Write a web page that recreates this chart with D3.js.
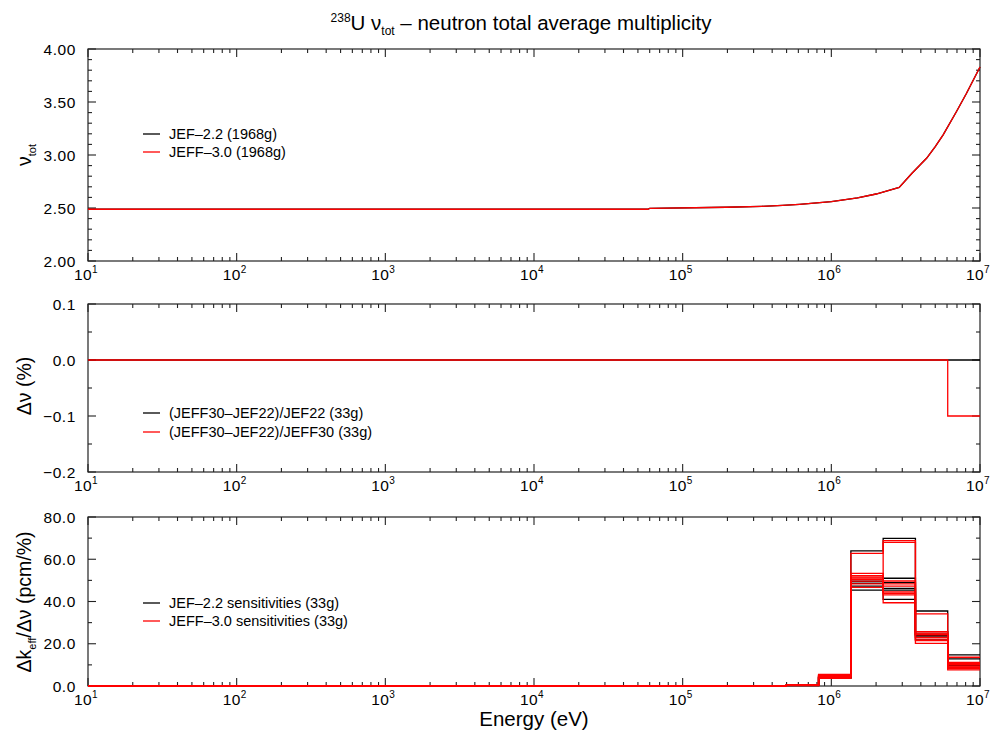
<!DOCTYPE html>
<html>
<head>
<meta charset="utf-8">
<script src="https://cdn.jsdelivr.net/npm/d3@7/dist/d3.min.js"></script>
<style>
  html, body { margin: 0; padding: 0; background: #fff; }
  svg { display: block; font-family: "Liberation Sans", Arial, Helvetica, sans-serif; }
</style>
</head>
<body>
<svg id="chart" width="995" height="740"></svg>
<script>
// ---- data ----
// 238U nu-total, fine group (1968g) curves
const nuEnergy = [10, 5.8e4, 6.0e4, 1.97e5, 3.4e5, 4.7e5, 6.1e5, 1.0e6, 1.5e6, 2.0e6, 2.86e6, 3.5e6, 4.37e6, 5.0e6, 5.65e6, 6.95e6, 8.1e6, 1.0e7];
const nuJEF22  = [2.488, 2.488, 2.497, 2.507, 2.516, 2.525, 2.535, 2.56, 2.595, 2.632, 2.695, 2.83, 2.969, 3.08, 3.19, 3.41, 3.58, 3.83];
const nuJEFF30 = [2.488, 2.488, 2.497, 2.507, 2.516, 2.525, 2.535, 2.56, 2.595, 2.632, 2.695, 2.83, 2.969, 3.08, 3.19, 3.41, 3.58, 3.83];

// 33-group boundaries (upper part of range shown)
const groupEdges = [10, 4.9787e5, 8.2085e5, 1.3534e6, 2.2313e6, 3.6788e6, 6.0653e6, 1.0e7];

// relative difference (%) per group
const diffRelJEF22  = [0, 0, 0, 0, 0, 0, 0];
const diffRelJEFF30 = [0, 0, 0, 0, 0, 0, -0.1];

// sensitivities (pcm/%) per group, one row per benchmark
const sensJEF22 = [
  [0, 0.4, 4.5, 64.0, 69.9, 35.5, 14.7],
  [0, 0.3, 4.2, 50.2, 51.0, 25.7, 12.8],
  [0, 0.3, 4.0, 49.4, 48.9, 24.6, 10.7],
  [0, 0.3, 3.9, 47.3, 45.4, 23.3, 10.2],
  [0, 0.2, 3.7, 45.4, 41.0, 21.8, 9.6],
  [0, 0.3, 4.1, 48.6, 46.2, 24.0, 10.0]
];
const sensJEFF30 = [
  [0, 0.5, 5.5, 62.8, 68.8, 34.1, 13.6],
  [0, 0.4, 5.2, 52.2, 49.7, 25.7, 11.2],
  [0, 0.4, 4.8, 51.1, 48.3, 25.0, 10.7],
  [0, 0.3, 4.5, 50.5, 47.3, 24.2, 10.2],
  [0, 0.3, 4.2, 49.6, 44.6, 23.0, 9.5],
  [0, 0.3, 3.9, 48.3, 43.9, 22.2, 8.8],
  [0, 0.2, 3.6, 46.7, 39.4, 20.2, 7.6],
  [0, 0.4, 5.0, 53.3, 43.1, 21.5, 8.2],
  [0, 0.4, 4.9, 51.5, 68.0, 24.5, 9.0]
];

const xDecades = [1, 2, 3, 4, 5, 6, 7];
const yTicksTop = [2.0, 2.5, 3.0, 3.5, 4.0];
const yTicksMid = [-0.2, -0.1, 0.0, 0.1];
const yTicksBot = [0, 20, 40, 60, 80];

// ---- layout ----
const svg = d3.select("#chart");
const left = 88, right = 980;
const x = d3.scaleLog().domain([10, 1e7]).range([left, right]);

const panels = [
  { top: 49,  bottom: 261, domain: [2.0, 4.0],  major: yTicksTop, minorStep: 0.1,  fmt: d3.format(".2f") },
  { top: 304, bottom: 472, domain: [-0.2, 0.1], major: yTicksMid, minorStep: 0.05, fmt: d => d3.format(".1f")(d).replace("-", "\u2013") },
  { top: 517, bottom: 686, domain: [0, 80],     major: yTicksBot, minorStep: 10,   fmt: d3.format(".1f") }
];
panels.forEach(p => { p.y = d3.scaleLinear().domain(p.domain).range([p.bottom, p.top]); });

const axisColor = "#222";

function drawFrame(p) {
  const g = svg.append("g");
  g.append("rect")
    .attr("x", left).attr("y", p.top)
    .attr("width", right - left).attr("height", p.bottom - p.top)
    .attr("fill", "none").attr("stroke", axisColor).attr("stroke-width", 1.2);

  // x ticks: major at decades, minor at 2..9
  const xMinor = [];
  for (let d = 1; d < 7; d++) for (let m = 2; m <= 9; m++) xMinor.push(m * Math.pow(10, d));
  const xMajor = xDecades.map(d => Math.pow(10, d));
  [[xMajor, 8], [xMinor, 4]].forEach(([vals, len]) => {
    vals.forEach(v => {
      const px = x(v);
      g.append("line").attr("x1", px).attr("x2", px).attr("y1", p.bottom).attr("y2", p.bottom - len)
        .attr("stroke", axisColor).attr("stroke-width", 1.1);
      g.append("line").attr("x1", px).attr("x2", px).attr("y1", p.top).attr("y2", p.top + len)
        .attr("stroke", axisColor).attr("stroke-width", 1.1);
    });
  });

  // y ticks
  const n = Math.round((p.domain[1] - p.domain[0]) / p.minorStep);
  for (let i = 0; i <= n; i++) {
    const v = p.domain[0] + i * p.minorStep;
    const isMajor = p.major.some(m => Math.abs(m - v) < 1e-9);
    const len = isMajor ? 8 : 4;
    const py = p.y(v);
    g.append("line").attr("x1", left).attr("x2", left + len).attr("y1", py).attr("y2", py)
      .attr("stroke", axisColor).attr("stroke-width", 1.1);
    g.append("line").attr("x1", right).attr("x2", right - len).attr("y1", py).attr("y2", py)
      .attr("stroke", axisColor).attr("stroke-width", 1.1);
  }

  // y tick labels
  p.major.forEach(v => {
    g.append("text").attr("x", 76).attr("y", p.y(v)).attr("dy", "0.36em")
      .attr("text-anchor", "end").attr("font-size", 15.5).attr("letter-spacing", 0.6).attr("fill", "#000")
      .text(p.fmt(v));
  });

  // x tick labels 10^n
  xDecades.forEach(d => {
    const t = g.append("text").attr("x", x(Math.pow(10, d)) - 2).attr("y", p.bottom + 19)
      .attr("text-anchor", "middle").attr("font-size", 15.5).attr("letter-spacing", 0.4).attr("fill", "#000");
    t.append("tspan").text("10");
    t.append("tspan").attr("dy", -7).attr("font-size", 10).text(d);
  });
}
panels.forEach(drawFrame);

// ---- top panel: nu-total curves ----
const pTop = panels[0];
const lineTop = d3.line().x(d => x(d[0])).y(d => pTop.y(d[1]));
svg.append("path").datum(nuEnergy.map((e, i) => [e, nuJEF22[i]]))
  .attr("d", lineTop).attr("fill", "none").attr("stroke", "#000").attr("stroke-width", 1.3);
svg.append("path").datum(nuEnergy.map((e, i) => [e, nuJEFF30[i]]))
  .attr("d", lineTop).attr("fill", "none").attr("stroke", "#ff0000").attr("stroke-width", 1.3);

// ---- step helpers ----
function stepPoints(vals) {
  const pts = vals.map((v, i) => [groupEdges[i], v]);
  pts.push([groupEdges[groupEdges.length - 1], vals[vals.length - 1]]);
  return pts;
}

// ---- middle panel: relative differences ----
const pMid = panels[1];
const lineMid = d3.line().x(d => x(d[0])).y(d => pMid.y(d[1])).curve(d3.curveStepAfter);
svg.append("path").datum(stepPoints(diffRelJEF22))
  .attr("d", lineMid).attr("fill", "none").attr("stroke", "#000").attr("stroke-width", 1.3);
svg.append("path").datum(stepPoints(diffRelJEFF30))
  .attr("d", lineMid).attr("fill", "none").attr("stroke", "#ff0000").attr("stroke-width", 1.3);

// ---- bottom panel: sensitivities ----
const pBot = panels[2];
const lineBot = d3.line().x(d => x(d[0])).y(d => pBot.y(d[1])).curve(d3.curveStepAfter);
sensJEF22.forEach(row => {
  svg.append("path").datum(stepPoints(row))
    .attr("d", lineBot).attr("fill", "none").attr("stroke", "#000").attr("stroke-width", 1.3);
});
sensJEFF30.forEach(row => {
  svg.append("path").datum(stepPoints(row))
    .attr("d", lineBot).attr("fill", "none").attr("stroke", "#ff0000").attr("stroke-width", 1.3);
});

// ---- legends ----
function legend(items, y0, dy) {
  items.forEach((it, i) => {
    const y = y0 + i * dy;
    svg.append("line").attr("x1", 143).attr("x2", 160).attr("y1", y).attr("y2", y)
      .attr("stroke", it.color).attr("stroke-width", 1.3);
    svg.append("text").attr("x", 169).attr("y", y).attr("dy", "0.36em")
      .attr("font-size", 14.5).attr("fill", "#000").text(it.label);
  });
}
legend([{ label: "JEF\u20132.2 (1968g)", color: "#000" }, { label: "JEFF\u20133.0 (1968g)", color: "#ff0000" }], 134, 18);
legend([{ label: "(JEFF30\u2013JEF22)/JEF22 (33g)", color: "#000" }, { label: "(JEFF30\u2013JEF22)/JEFF30 (33g)", color: "#ff0000" }], 413, 19);
legend([{ label: "JEF\u20132.2 sensitivities (33g)", color: "#000" }, { label: "JEFF\u20133.0 sensitivities (33g)", color: "#ff0000" }], 603, 18);

// ---- titles ----
const title = svg.append("text").attr("x", 521).attr("y", 30).attr("text-anchor", "middle")
  .attr("font-size", 20.5).attr("fill", "#000");
title.append("tspan").attr("font-size", 12).attr("dy", -8).text("238");
title.append("tspan").attr("dy", 8).text("U \u03bd");
title.append("tspan").attr("font-size", 12).attr("dy", 5).text("tot");
title.append("tspan").attr("dy", -5).text(" \u2013 neutron total average multiplicity");

function yTitle(yc, parts) {
  const t = svg.append("text").attr("transform", `translate(31,${yc}) rotate(-90)`)
    .attr("text-anchor", "middle").attr("font-size", 19.5).attr("fill", "#000");
  parts.forEach(pt => {
    const s = t.append("tspan").text(pt.text);
    if (pt.sub) s.attr("font-size", 11).attr("dy", 5);
    if (pt.after) s.attr("dy", -5);
  });
}
yTitle(155, [{ text: "\u03bd" }, { text: "tot", sub: true }]);
yTitle(386, [{ text: "\u0394\u03bd (%)" }]);
yTitle(602, [{ text: "\u0394k" }, { text: "eff", sub: true }, { text: "/\u0394\u03bd (pcm/%)", after: true }]);

svg.append("text").attr("x", 534).attr("y", 726).attr("text-anchor", "middle")
  .attr("font-size", 20.5).attr("fill", "#000").text("Energy (eV)");
</script>
</body>
</html>
